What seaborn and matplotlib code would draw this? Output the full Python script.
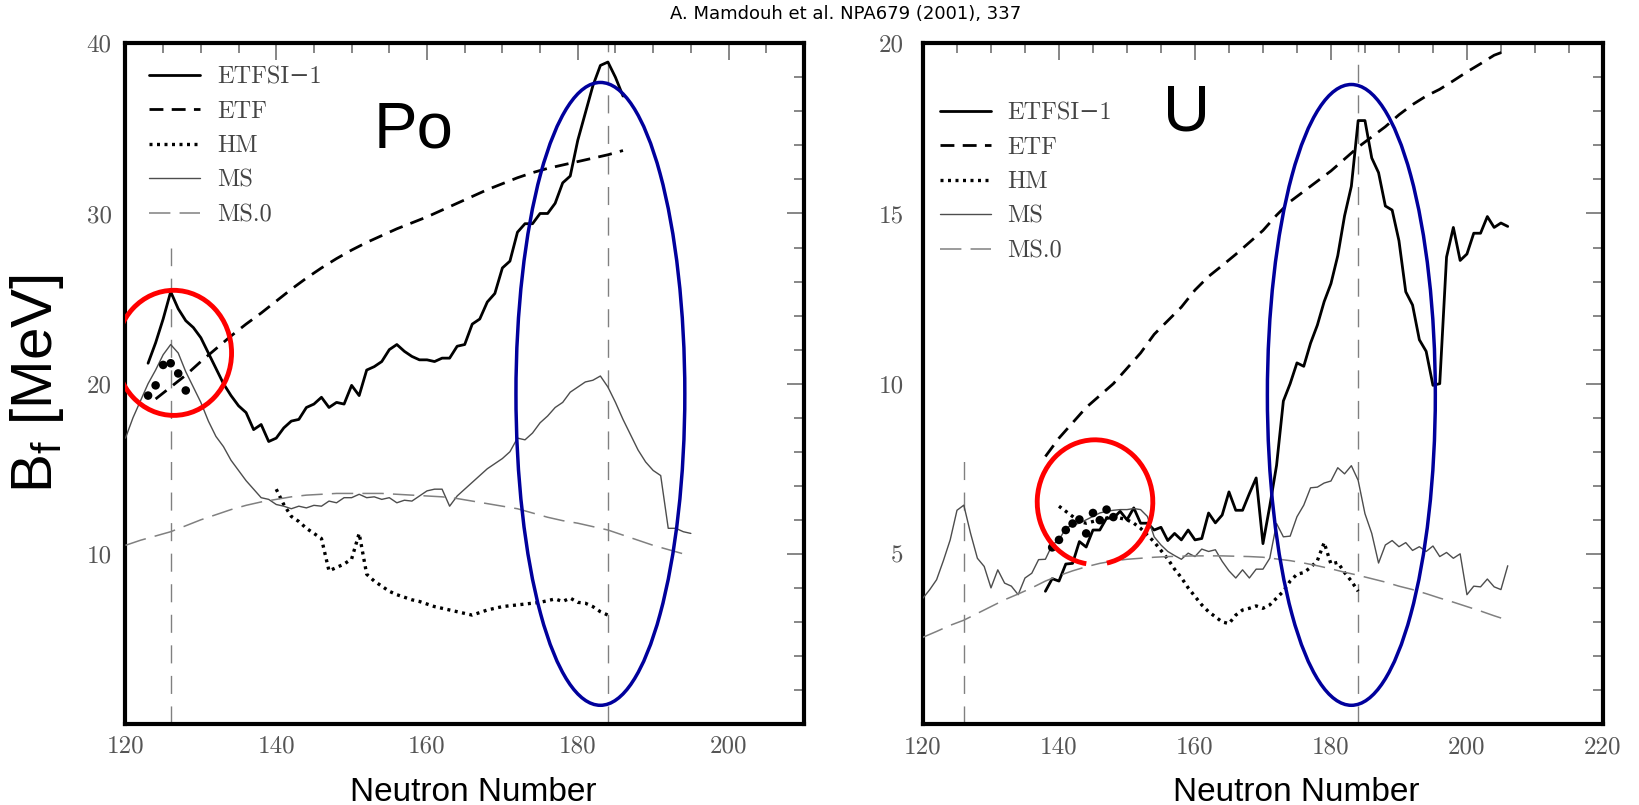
import numpy as np
import matplotlib
matplotlib.use("Agg")
import matplotlib.pyplot as plt
import seaborn as sns
from matplotlib.patches import Ellipse, Arc
from matplotlib.ticker import MultipleLocator
from matplotlib.font_manager import FontProperties

# ------------------------------------------------------------------ data: Po
po_etfsi_n = list(range(123, 187))
po_etfsi = [21.2, 22.4, 23.8, 25.4, 24.4, 23.7, 23.3, 22.7, 21.8, 20.9,
            20.0, 19.3, 18.7, 18.3, 17.3, 17.6, 16.6, 16.8, 17.4, 17.8,
            17.9, 18.6, 18.8, 19.2, 18.6, 18.9, 18.8, 19.9, 19.3, 20.8,
            21.0, 21.3, 22.0, 22.3, 21.9, 21.6, 21.4, 21.4, 21.3, 21.5,
            21.5, 22.2, 22.3, 23.5, 23.8, 24.8, 25.3, 26.8, 27.2, 28.9,
            29.4, 29.4, 30.0, 30.0, 30.6, 31.8, 32.2, 34.3, 35.9, 37.5,
            38.7, 38.9, 38.0, 36.9]
po_etf_n = list(range(124, 187, 2))
po_etf = [19.1, 19.8, 20.5, 21.3, 22.05, 22.8, 23.5, 24.15, 24.85, 25.55,
          26.2, 26.8, 27.35, 27.85, 28.3, 28.7, 29.1, 29.45, 29.8, 30.2,
          30.6, 31.0, 31.4, 31.75, 32.1, 32.4, 32.65, 32.85, 33.05, 33.25,
          33.45, 33.7]
po_hm_n = list(range(140, 185))
po_hm = [13.8, 12.9, 12.2, 11.9, 11.5, 11.2, 10.9, 9.0, 9.2, 9.4,
         9.7, 11.2, 8.8, 8.4, 8.1, 7.8, 7.6, 7.45, 7.3, 7.2,
         7.05, 6.9, 6.8, 6.7, 6.6, 6.5, 6.4, 6.55, 6.7, 6.8,
         6.9, 6.95, 7.0, 7.05, 7.1, 7.15, 7.25, 7.35, 7.2, 7.4,
         7.15, 7.1, 6.9, 6.6, 6.4]
po_ms_n = list(range(120, 196))
po_ms = [16.8, 18.0, 19.0, 20.0, 20.8, 21.7, 22.3, 21.8, 20.7, 19.8,
         18.9, 17.8, 16.9, 16.3, 15.5, 14.9, 14.3, 13.8, 13.3, 13.2,
         12.9, 12.8, 12.65, 12.8, 12.7, 12.85, 12.8, 13.1, 13.0, 13.3,
         13.3, 13.5, 13.3, 13.35, 13.2, 13.3, 13.0, 13.15, 13.1, 13.4,
         13.7, 13.8, 13.8, 12.8, 13.4, 13.8, 14.2, 14.6, 15.0, 15.3,
         15.6, 16.0, 16.8, 16.7, 17.1, 17.7, 18.1, 18.6, 18.9, 19.5,
         19.8, 20.1, 20.2, 20.45, 19.8, 18.9, 17.9, 17.0, 16.1, 15.4,
         14.9, 14.6, 11.5, 11.5, 11.3, 11.2]
po_ms0_n = list(range(120, 195, 2))
po_ms0 = [10.5, 10.8, 11.05, 11.3, 11.65, 12.0, 12.3, 12.6, 12.85, 13.05,
          13.2, 13.35, 13.45, 13.5, 13.55, 13.55, 13.55, 13.55, 13.5, 13.45,
          13.4, 13.35, 13.25, 13.1, 12.95, 12.8, 12.65, 12.4, 12.15, 11.95,
          11.8, 11.6, 11.4, 11.1, 10.8, 10.5, 10.25, 10.0]
po_exp_n = [123, 124, 125, 126, 127, 128]
po_exp = [19.3, 19.9, 21.1, 21.2, 20.6, 19.6]

# ------------------------------------------------------------------ data: U
u_etfsi_n = list(range(138, 207))
u_etfsi = [3.9, 4.27, 4.2, 4.7, 4.72, 5.36, 5.2, 5.7, 5.7, 6.05,
           6.05, 6.25, 6.0, 6.35, 5.9, 5.9, 5.7, 5.78, 5.39, 5.6,
           5.41, 5.7, 5.41, 5.45, 6.2, 5.91, 6.14, 6.82, 6.28, 6.28,
           6.77, 7.23, 5.3, 6.4, 7.6, 9.49, 10.0, 10.61, 10.51, 11.19,
           11.72, 12.41, 12.94, 13.76, 14.93, 15.8, 17.73, 17.73, 16.63, 16.2,
           15.22, 15.1, 14.2, 12.7, 12.31, 11.29, 10.95, 9.95, 10.0, 13.72,
           14.59, 13.62, 13.81, 14.42, 14.42, 14.91, 14.59, 14.72, 14.62]
u_etf_n = list(range(138, 207, 2))
u_etf = [7.86, 8.4, 8.85, 9.3, 9.65, 10.0, 10.45, 10.9, 11.45, 11.85,
         12.25, 12.75, 13.15, 13.47, 13.8, 14.15, 14.5, 14.95, 15.35, 15.65,
         15.95, 16.25, 16.6, 16.95, 17.25, 17.55, 17.9, 18.2, 18.45, 18.65,
         18.9, 19.16, 19.4, 19.65, 19.8]
u_hm_n = list(range(140, 185))
u_hm = [6.4, 6.25, 6.1, 5.95, 5.9, 5.95, 6.0, 6.05, 6.1, 6.05,
        6.0, 5.9, 5.75, 5.55, 5.35, 5.1, 4.85, 4.55, 4.3, 4.0,
        3.75, 3.5, 3.3, 3.15, 3.0, 2.95, 3.2, 3.35, 3.4, 3.47,
        3.4, 3.5, 3.7, 3.9, 4.2, 4.4, 4.45, 4.6, 4.8, 5.33,
        4.7, 4.75, 4.45, 4.2, 3.9]
u_ms_n = list(range(120, 207))
u_ms = [3.7, 3.95, 4.24, 4.8, 5.41, 6.28, 6.43, 5.6, 4.87, 4.63,
        4.0, 4.53, 4.14, 4.05, 3.8, 4.29, 4.43, 4.83, 4.84, 5.26,
        5.41, 5.75, 5.85, 5.9, 6.0, 6.1, 6.2, 6.25, 6.28, 6.3,
        6.3, 6.33, 6.3, 6.1, 5.5, 5.26, 5.07, 4.95, 4.84, 5.02,
        4.92, 5.14, 5.07, 5.12, 4.78, 4.5, 4.29, 4.53, 4.29, 4.55,
        4.55, 4.87, 5.89, 5.5, 5.52, 6.09, 6.43, 6.94, 6.96, 7.08,
        7.14, 7.53, 7.35, 7.59, 7.16, 6.18, 5.6, 4.73, 5.26, 5.39,
        5.21, 5.33, 5.1, 5.21, 5.07, 5.23, 4.92, 5.04, 4.87, 5.0,
        3.8, 4.05, 4.03, 4.26, 4.03, 3.95, 4.65]
u_ms0_n = list(range(120, 207, 2))
u_ms0 = [2.55, 2.72, 2.9, 3.05, 3.25, 3.45, 3.65, 3.82, 4.0, 4.2,
         4.36, 4.5, 4.62, 4.72, 4.79, 4.84, 4.87, 4.9, 4.92, 4.93,
         4.94, 4.94, 4.94, 4.93, 4.92, 4.9, 4.85, 4.8, 4.73, 4.65,
         4.56, 4.46, 4.37, 4.27, 4.17, 4.05, 3.95, 3.83, 3.7, 3.58,
         3.45, 3.32, 3.18, 3.05]
u_exp_n = [139, 140, 141, 142, 143, 144, 145, 146, 147, 148]
u_exp = [5.19, 5.41, 5.70, 5.89, 6.01, 5.6, 6.2, 5.99, 6.3, 6.08]

# shell closures (N) and the height to which their guide lines reach
magic_n = [126, 184]
po_magic_top = [28, 40]
u_magic_top = [8, 20]

series_labels = ["ETFSI\u22121", "ETF", "HM", "MS", "MS.0"]
po_xticks = [120, 140, 160, 180, 200]
po_yticks = [10, 20, 30, 40]
u_xticks = [120, 140, 160, 180, 200, 220]
u_yticks = [5, 10, 15, 20]

# highlight ellipses: (center N, center B, width, height)
po_red = (126.4, 21.81, 15.35, 7.35)
po_blue = (183.0, 19.4, 22.4, 36.6)
u_red = (145.3, 6.52, 17.0, 3.66)
u_blue = (183.0, 9.67, 24.7, 18.24)

# ------------------------------------------------------------------ styling
sns.set_theme(style="white")
plt.rcParams["mathtext.fontset"] = "custom"
plt.rcParams["mathtext.rm"] = "Liberation Sans"
plt.rcParams["mathtext.it"] = "Liberation Sans:italic"
plt.rcParams["font.family"] = ["Liberation Sans", "DejaVu Sans"]

styles = [
    dict(color="black", linewidth=2.0, linestyle="-"),
    dict(color="black", linewidth=2.0, linestyle=(0, (5, 3))),
    dict(color="black", linewidth=2.4, linestyle=(0, (0.9, 1.35))),
    dict(color="#4d4d4d", linewidth=1.0, linestyle="-"),
    dict(color="#808080", linewidth=1.1, linestyle=(0, (14, 6))),
]

tick_font = "cmr10"
leg_prop = FontProperties(family=["cmr10", "DejaVu Serif"], size=17.5)

fig = plt.figure(figsize=(16.4, 8.05), dpi=100)
axL = fig.add_axes([0.0765, 0.1006, 0.4137, 0.8456])
axR = fig.add_axes([0.5628, 0.1006, 0.4146, 0.8456])


def draw_panel(ax, curves, exp_n, exp_v, magic_top):
    handles = []
    for (n, v), st, lab in zip(curves, styles, series_labels):
        sns.lineplot(x=n, y=v, ax=ax, estimator=None, sort=False,
                     legend=False, zorder=3, **st)
        line = ax.lines[-1]
        line.set_label(lab)
        handles.append(line)
    sns.scatterplot(x=exp_n, y=exp_v, ax=ax, color="black", s=38,
                    edgecolor="none", legend=False, zorder=4)
    for xm, top in zip(magic_n, magic_top):
        ax.vlines(xm, 0, top, colors="#808080", linewidth=1.0,
                  linestyles=[(0, (13, 9))], zorder=2)
    return handles


hL = draw_panel(axL, [(po_etfsi_n, po_etfsi), (po_etf_n, po_etf),
                      (po_hm_n, po_hm), (po_ms_n, po_ms),
                      (po_ms0_n, po_ms0)],
                po_exp_n, po_exp, po_magic_top)
hR = draw_panel(axR, [(u_etfsi_n, u_etfsi), (u_etf_n, u_etf),
                      (u_hm_n, u_hm), (u_ms_n, u_ms),
                      (u_ms0_n, u_ms0)],
                u_exp_n, u_exp, u_magic_top)

# axes limits / ticks
axL.set_xlim(120, 210)
axL.set_ylim(0, 40)
axR.set_xlim(120, 220)
axR.set_ylim(0, 20)

for ax, xt, yt, xminor, yminor, xpad, ypad in [
        (axL, po_xticks, po_yticks, 5, 2, 8, 10),
        (axR, u_xticks, u_yticks, 5, 1, 9, 14)]:
    ax.set_xticks(xt, labels=[str(t) for t in xt], fontfamily=tick_font,
                  fontsize=18, color="#555555")
    ax.set_yticks(yt, labels=[str(t) for t in yt], fontfamily=tick_font,
                  fontsize=18, color="#555555")
    ax.xaxis.set_minor_locator(MultipleLocator(xminor))
    ax.yaxis.set_minor_locator(MultipleLocator(yminor))
    ax.tick_params(which="both", direction="in", top=True, right=True,
                   color="#666666", width=1.1)
    ax.tick_params(which="major", length=12)
    ax.tick_params(which="minor", length=7)
    ax.tick_params(axis="x", which="major", pad=xpad)
    ax.tick_params(axis="y", which="major", pad=ypad)
    for sp in ax.spines.values():
        sp.set_visible(True)
        sp.set_linewidth(3)
        sp.set_color("black")
    ax.grid(False)
    ax.set_facecolor("white")

# labels
axL.set_xlabel("Neutron Number", fontsize=24, color="black")
axR.set_xlabel("Neutron Number", fontsize=24, color="black")
axL.xaxis.set_label_coords(0.512, -0.078)
axR.xaxis.set_label_coords(0.549, -0.078)
axL.set_ylabel(r"B$_{\mathrm{f}}$ [MeV]", fontsize=42, color="black")
axL.yaxis.set_label_coords(-0.087, 0.5)

axL.text(158.2, 33.9, "Po", fontsize=47, ha="center", va="baseline",
         color="black")
axR.text(158.75, 17.43, "U", fontsize=47, ha="center", va="baseline",
         color="black")

fig.text(846 / 1640, 1 - 14 / 805, "A. Mamdouh et al. NPA679 (2001), 337",
         ha="center", va="center", fontsize=13, family="DejaVu Sans",
         color="black")

# legends
for ax, h, anchor in [(axL, hL, (0.035, 0.9665)), (axR, hR, (0.025, 0.9137))]:
    ax.legend(handles=h, loc="upper left", bbox_to_anchor=anchor,
              frameon=False, prop=leg_prop, handlelength=2.1,
              handletextpad=0.68, labelspacing=0.51, borderpad=0,
              borderaxespad=0, labelcolor="#444444")

# highlight ellipses
red = "#ff0000"
blue = "#00009c"
cx, cy, w, h = po_red
axL.add_patch(Ellipse((cx, cy), w, h, fill=False, ec=red, lw=3.5, zorder=5))
for ax, (cx, cy, w, h) in [(axL, po_blue), (axR, u_blue)]:
    ax.add_patch(Ellipse((cx, cy), w, h, fill=False, ec=blue, lw=2.5, zorder=5))


def geom_angle(t_deg, w, h):
    t = np.deg2rad(t_deg)
    return np.rad2deg(np.arctan2(h / w * np.sin(t), np.cos(t))) % 360


cx, cy, w, h = u_red
gap_start, gap_end = 261.3, 281.8  # parametric angles of the small gap
axR.add_patch(Arc((cx, cy), w, h, theta1=geom_angle(gap_end, w, h),
                  theta2=geom_angle(gap_start, w, h), ec=red, lw=3.5,
                  zorder=5))

fig.savefig("out.png", dpi=100, facecolor="white")
